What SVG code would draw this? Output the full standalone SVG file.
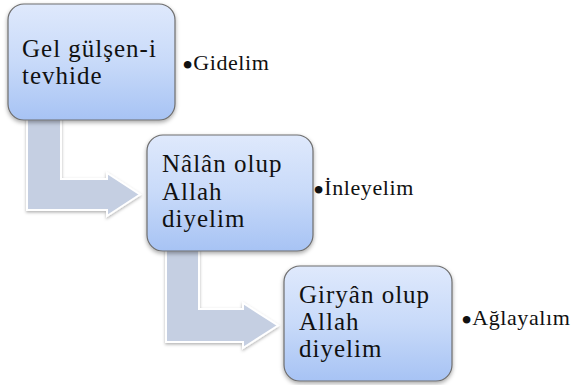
<svg xmlns="http://www.w3.org/2000/svg" width="577" height="385" viewBox="0 0 577 385">
<defs>
<linearGradient id="boxGrad" x1="0" y1="0" x2="0" y2="1">
<stop offset="0" stop-color="#dfe9fc"/>
<stop offset="0.5" stop-color="#c8daf9"/>
<stop offset="1" stop-color="#a7c3f4"/>
</linearGradient>
<filter id="shadow" x="-10%" y="-10%" width="125%" height="130%">
<feDropShadow dx="0" dy="2" stdDeviation="2" flood-color="#000" flood-opacity="0.35"/>
</filter>
<filter id="ashadow" x="-10%" y="-10%" width="125%" height="130%">
<feDropShadow dx="0" dy="1.5" stdDeviation="1.5" flood-color="#000" flood-opacity="0.3"/>
</filter>
</defs>
<style>
.box{fill:url(#boxGrad);stroke:#6e6e6e;stroke-width:1.2;filter:url(#shadow)}
.arrow{fill:#c5cfe2;stroke:#ffffff;stroke-width:2;filter:url(#ashadow)}
.t{font-family:"Liberation Serif","Times New Roman",serif;font-size:25px;letter-spacing:1px;fill:#111}
.b{font-family:"Liberation Serif","Times New Roman",serif;font-size:22px;letter-spacing:0.6px;fill:#111}
.dot{font-size:32px;letter-spacing:0}
</style>
<g id="connectors">
<path class="arrow" d="M27,116 L61,116 L61,179 L107,179 L107,173 L140,194.5 L107,216 L107,210 L27,210 Z"/>
<path class="arrow" d="M166,247 L199,247 L199,309 L243,309 L243,303 L278,325.5 L243,348 L243,342 L166,342 Z"/>
</g>
<g id="node1">
<rect class="box" x="8" y="4" width="167" height="116" rx="16"/>
<text class="t" x="22" y="57">Gel gülşen-i</text>
<text class="t" x="22" y="84">tevhide</text>
</g>
<g id="node2">
<rect class="box" x="147" y="135" width="166" height="116" rx="16"/>
<text class="t" x="162" y="172">Nâlân olup</text>
<text class="t" x="162" y="200">Allah</text>
<text class="t" x="162" y="227">diyelim</text>
</g>
<g id="node3">
<rect class="box" x="284" y="266" width="168" height="115" rx="16"/>
<text class="t" x="299" y="303">Giryân olup</text>
<text class="t" x="299" y="330">Allah</text>
<text class="t" x="299" y="357">diyelim</text>
</g>
<g id="bullet1">
<text class="b" x="182" y="70"><tspan class="dot" dy="6">•</tspan><tspan dy="-6">Gidelim</tspan></text>
</g>
<g id="bullet2">
<text class="b" x="313" y="195"><tspan class="dot" dy="6">•</tspan><tspan dy="-6">İnleyelim</tspan></text>
</g>
<g id="bullet3">
<text class="b" x="461" y="325"><tspan class="dot" dy="6">•</tspan><tspan dy="-6">Ağlayalım</tspan></text>
</g>
</svg>
